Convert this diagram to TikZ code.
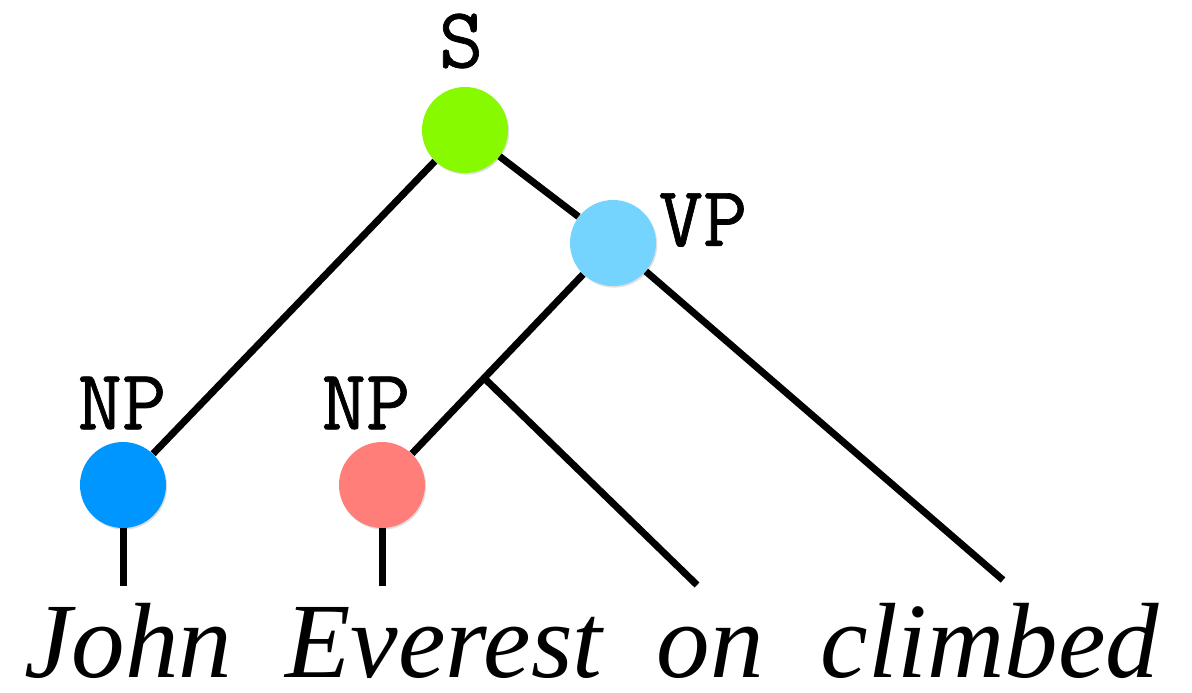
\documentclass[tikz,border=0pt]{standalone}
\usepackage{fontspec}
\setmainfont{Liberation Serif}
\newfontfamily\lblfont[FakeBold=0.8]{Latin Modern Mono}
\usetikzlibrary{calc,shadows}
\definecolor{sgreen}{RGB}{136,250,0}
\definecolor{vpblue}{RGB}{117,212,253}
\definecolor{npblue}{RGB}{0,150,255}
\definecolor{npred}{RGB}{255,126,121}
\begin{document}
\begin{tikzpicture}[x=0.5pt,y=-0.5pt,
  cat/.style={circle,minimum size=43pt,inner sep=0pt,
    drop shadow={opacity=0.25,shadow xshift=0.6pt,shadow yshift=-0.8pt}},
  lbl/.style={inner sep=0pt,font=\fontsize{43}{45}\selectfont\lblfont},
  word/.style={inner ysep=0pt,inner xsep=5pt,anchor=base,font=\fontsize{53.5}{56}\selectfont\itshape},
  branch/.style={line width=3.5pt}]
\useasboundingbox (0,0) rectangle (1192,692);

% categories
\node[cat,fill=sgreen] (s) at (465,130) {};
\node[cat,fill=vpblue] (vp) at (613,243) {};
\node[cat,fill=npblue] (np1) at (123,485) {};
\node[cat,fill=npred] (np2) at (382,485) {};

\node[lbl] (ls) at (461,41) {S};
\node[lbl] (lvp) at (703,220) {VP};
\node[lbl] (lnp1) at (122,403) {NP};
\node[lbl] (lnp2) at (366,403) {NP};

% words
\node[word] (john) at (128,677) {John};
\node[word] (everest) at (444,677) {Everest};
\node[word] (on) at (710,677) {on};
\node[word] (climbed) at (990,677) {climbed};

% leaf ends
\coordinate (tjohn) at (123,586);
\coordinate (teverest) at (382,586);
\coordinate (ton) at (697,585);
\coordinate (tclimbed) at (1003,580);
\coordinate (j) at ($(vp.center)!0.558!(np2.center)$);

% branches
\draw[branch] (s) -- (np1);
\draw[branch] (s) -- (vp);
\draw[branch] (vp) -- (np2);
\draw[branch] (j) -- (ton);
\draw[branch] (vp) -- (tclimbed);
\draw[branch] (np1) -- (tjohn);
\draw[branch] (np2) -- (teverest);
\end{tikzpicture}
\end{document}
